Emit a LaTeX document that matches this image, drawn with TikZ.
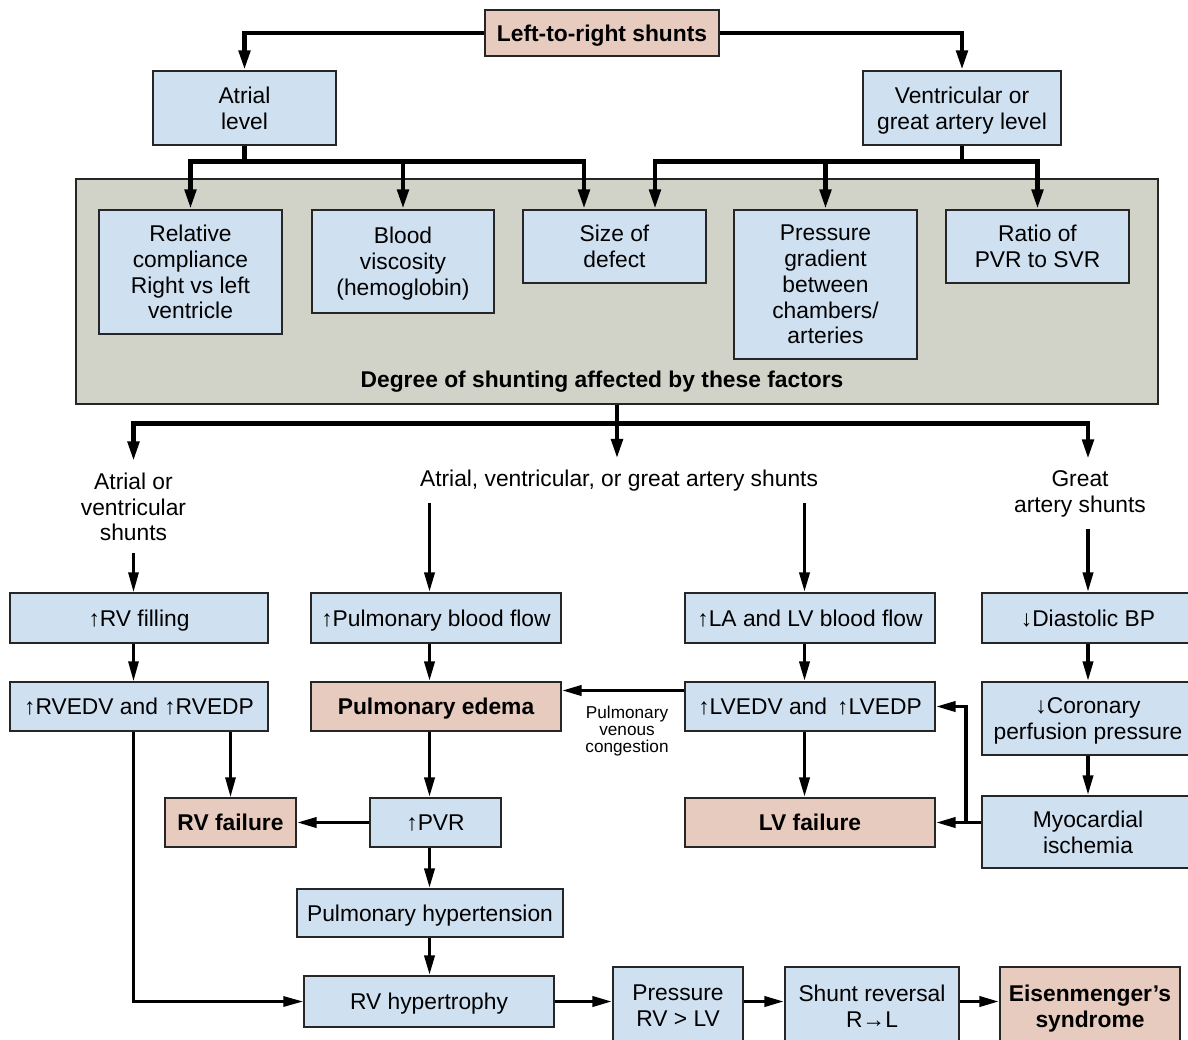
\documentclass[tikz,border=0pt]{standalone}
\usepackage{fontspec}
\setmainfont{Liberation Sans}
\usetikzlibrary{arrows.meta}
\definecolor{boxblue}{RGB}{207,224,241}
\definecolor{boxpink}{RGB}{232,203,191}
\definecolor{panelgray}{RGB}{209,211,201}
\newcommand{\chartfont}{\fontsize{11.4pt}{12.9pt}\selectfont}

\begin{document}
\begin{tikzpicture}[x=0.5pt, y=-0.5pt, font=\chartfont,
  box/.style={draw=black!85, line width=0.7pt, align=center, inner sep=1pt, text depth=0pt},
  bluebox/.style={box, fill=boxblue},
  pinkbox/.style={box, fill=boxpink, font=\chartfont\bfseries},
  lbl/.style={align=center, inner xsep=0pt, inner ysep=5.5pt},
  stemline/.style={line width=2.4pt},
  mainarrow/.style={line width=2.4pt, -{Triangle[length=10pt,width=5.5pt]}},
  flowarrow/.style={line width=1.9pt, -{Triangle[length=10pt,width=5pt]}},
  thinarrow/.style={line width=1.5pt, -{Triangle[length=10pt,width=5pt]}}]

\useasboundingbox (0,0) rectangle (1188,1039);
\clip (0,0) rectangle (1188,1039);

% top
\node[pinkbox, minimum width=117pt, minimum height=23pt] (lrs) at (602,33) {Left-to-right shunts};
\node[bluebox, minimum width=91.5pt, minimum height=37pt] (atrial) at (244.5,108) {Atrial\\level};
\node[bluebox, minimum width=99pt, minimum height=37pt] (ventr) at (962,108) {Ventricular or\\great artery level};

% factors
\node[box, fill=panelgray, minimum width=541pt, minimum height=112.5pt] (panel) at (617,291.5) {};
\node[bluebox, minimum width=91.5pt, minimum height=62pt] (relcomp) at (190.5,272) {Relative\\compliance\\Right vs left\\ventricle};
\node[bluebox, minimum width=91pt, minimum height=51.5pt] (visc) at (403,261.5) {Blood\\viscosity\\(hemoglobin)};
\node[bluebox, minimum width=91.5pt, minimum height=36.5pt] (size) at (614.5,246.5) {Size of\\defect};
\node[bluebox, minimum width=91.5pt, minimum height=74.5pt] (pgrad) at (825.5,284.5) {Pressure\\gradient\\between\\chambers/\\arteries};
\node[bluebox, minimum width=91.5pt, minimum height=36.5pt] (ratio) at (1037.5,246.5) {Ratio of\\PVR to SVR};
\node[font=\chartfont\bfseries] (degree) at (602,382) {Degree of shunting affected by these factors};

% shunt types
\node[lbl] (lab1) at (133.5,507) {Atrial or\\ventricular\\shunts};
\node[lbl] (lab2) at (619,481) {Atrial, ventricular, or great artery shunts};
\node[lbl] (lab3) at (1080,494) {Great\\artery shunts};
\coordinate (colL) at (429.5,0);
\coordinate (colR) at (804.5,0);

% lower chart
\node[bluebox, minimum width=129pt, minimum height=25pt] (rvfill) at (139,618) {↑RV filling};
\node[bluebox, minimum width=125pt, minimum height=25pt] (pbf) at (436,618) {↑Pulmonary blood flow};
\node[bluebox, minimum width=125pt, minimum height=25pt] (lalv) at (810,618) {↑LA and LV blood flow};
\node[bluebox, minimum width=106pt, minimum height=25pt] (dbp) at (1088,618) {↓Diastolic BP};
\node[bluebox, minimum width=129pt, minimum height=24.5pt] (rvedv) at (139,706.5) {↑RVEDV and ↑RVEDP};
\node[pinkbox, minimum width=125pt, minimum height=24.5pt] (pedema) at (436,706.5) {Pulmonary edema};
\node[bluebox, minimum width=125pt, minimum height=24.5pt] (lvedv) at (810,706.5) {↑LVEDV and \,↑LVEDP};
\node[bluebox, minimum width=106pt, minimum height=36.5pt] (cpp) at (1088,718.5) {↓Coronary\\perfusion pressure};
\node[align=center, font=\fontsize{8.6pt}{8.6pt}\selectfont, inner sep=0pt] (cong) at (627,731) {Pulmonary\\venous\\congestion};
\node[pinkbox, minimum width=65.5pt, minimum height=24.5pt] (rvfail) at (230.5,822.5) {RV failure};
\node[bluebox, minimum width=65.5pt, minimum height=24.5pt] (pvr) at (435.5,822.5) {↑PVR};
\node[pinkbox, minimum width=125pt, minimum height=24.5pt] (lvfail) at (810,822.5) {LV failure};
\node[bluebox, minimum width=106pt, minimum height=36pt] (myo) at (1088,832) {Myocardial\\ischemia};
\node[bluebox, minimum width=133pt, minimum height=24pt] (phyp) at (430,913) {Pulmonary hypertension};
\node[bluebox, minimum width=125pt, minimum height=25.5pt] (rvhyp) at (429,1001.5) {RV hypertrophy};
\node[bluebox, minimum width=65pt, minimum height=39pt] (press) at (678,1006) {Pressure\\RV > LV};
\node[bluebox, minimum width=87pt, minimum height=39pt] (shunt) at (872,1006) {Shunt reversal\\R→L};
\node[pinkbox, minimum width=90pt, minimum height=39pt] (eisen) at (1090,1006) {Eisenmenger’s\\syndrome};

% connectors, top
\draw[mainarrow] (lrs.west) -| (atrial.north);
\draw[mainarrow] (lrs.east) -| (ventr.north);
\draw[stemline] (atrial.south) -- ++(0,16) coordinate (aj);
\foreach \n in {relcomp,visc}
  \draw[mainarrow] (aj) -| (\n.north);
\draw[mainarrow] (aj) -| ([xshift=-15.25pt]size.north);
\draw[stemline] (ventr.south) -- ++(0,16) coordinate (vj);
\foreach \n in {pgrad,ratio}
  \draw[mainarrow] (vj) -| (\n.north);
\draw[mainarrow] (vj) -| ([xshift=20.25pt]size.north);
\draw[stemline] (panel.south) -- ++(0,19) coordinate (gj);
\draw[mainarrow] (gj) -| (lab1.north);
\draw[mainarrow] (gj) -- (gj |- lab2.north);
\draw[mainarrow] (gj) -| ([xshift=4pt]lab3.north);

% connectors, lower chart
\draw[thinarrow] (lab1.south) -- (lab1.south |- rvfill.north);
\draw[flowarrow] (lab2.south -| colL) -- (colL |- pbf.north);
\draw[flowarrow] (lab2.south -| colR) -- (colR |- lalv.north);
\draw[flowarrow] (lab3.south -| dbp.north) -- (dbp.north);
\draw[thinarrow] (rvfill.south -| lab1) -- (rvedv.north -| lab1);
\draw[thinarrow] (rvedv.south -| rvfail.north) -- (rvfail.north);
\draw[thinarrow] (rvedv.south -| lab1) |- (rvhyp.west);
\draw[flowarrow] (pbf.south -| colL) -- (pedema.north -| colL);
\draw[flowarrow] (pedema.south -| colL) -- (pvr.north -| colL);
\draw[flowarrow] (pvr.west) -- (rvfail.east);
\draw[flowarrow] (pvr.south -| colL) -- (phyp.north -| colL);
\draw[flowarrow] (phyp.south -| colL) -- (rvhyp.north -| colL);
\draw[flowarrow] (lalv.south -| colR) -- (lvedv.north -| colR);
\draw[flowarrow] (lvedv.south -| colR) -- (lvfail.north -| colR);
\draw[flowarrow] ([yshift=8pt]lvedv.west) -- ([yshift=8pt]lvedv.west -| pedema.east);
\draw[flowarrow] (dbp.south) -- (cpp.north);
\draw[flowarrow] (cpp.south) -- (myo.north);
\coordinate (fb) at (966,822.5);
\draw[flowarrow] (myo.west |- fb) -- (lvfail.east);
\draw[flowarrow] (fb) |- (lvedv.east);
\draw[flowarrow] (rvhyp.east) -- (rvhyp.east -| press.west);
\draw[flowarrow] (press.east |- rvhyp.east) -- (rvhyp.east -| shunt.west);
\draw[flowarrow] (shunt.east |- rvhyp.east) -- (rvhyp.east -| eisen.west);

\end{tikzpicture}
\end{document}
